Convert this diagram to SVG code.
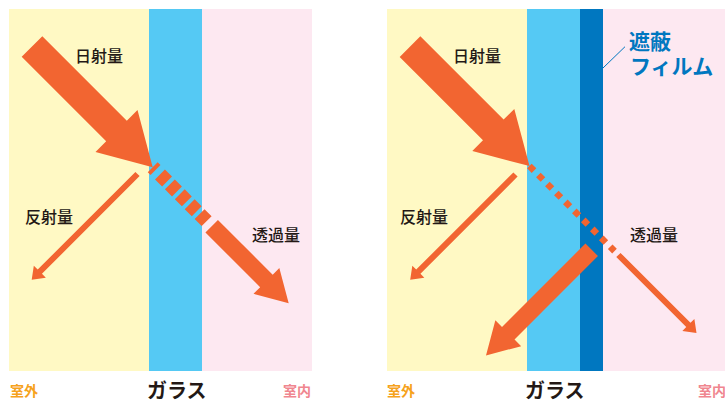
<svg xmlns="http://www.w3.org/2000/svg" width="725" height="403" viewBox="0 0 725 403">
<style>
.t{font-family:"Noto Sans CJK JP","Noto Sans",sans-serif;font-size:16px;font-weight:500;fill:#231815}
.b{font-family:"Noto Sans CJK JP","Noto Sans",sans-serif;font-weight:bold}
.arrow{fill:#f26531}
.out{font-size:14px;fill:#f6a21c}
.in{font-size:14px;fill:#f0868f}
.glass{font-size:20px;fill:#231815}
.film{font-size:21px;fill:#0077c0}
</style>
<rect width="725" height="403" fill="#ffffff"/>
<g id="panel-left">
<rect x="9" y="9" width="140" height="362" fill="#fff9c4"/>
<rect x="149" y="9" width="53" height="362" fill="#55c9f4"/>
<rect x="202" y="9" width="110" height="362" fill="#fde8f1"/>
</g>
<g id="panel-right">
<rect x="387" y="9" width="140" height="362" fill="#fff9c4"/>
<rect x="527" y="9" width="53" height="362" fill="#55c9f4"/>
<rect x="580" y="9" width="23" height="362" fill="#0077c0"/>
<rect x="603" y="9" width="122" height="362" fill="#fde8f1"/>
</g>
<g id="connectors">
<polygon class="arrow" points="21.68,56.82 106.18,141.32 95.5,152 152.7,167.2 137.5,110 126.82,120.68 42.32,36.18"/>
<line x1="152.7" y1="167.2" x2="211.7" y2="226.2" stroke="#f26531" stroke-width="14" stroke-dasharray="4 6.3 10 4 10 4 10 4 10 4 10 50"/>
<polygon class="arrow" points="205.44,232.46 260.17,287.19 253.53,293.83 288.7,303.2 279.33,268.03 272.69,274.67 217.96,219.94"/>
<polygon class="arrow" points="139.62,176.12 41.95,273.79 45.84,277.68 31.7,279.8 33.82,265.66 37.71,269.55 135.38,171.88"/>
<polygon class="arrow" points="399.68,56.92 482.98,140.22 472.3,150.9 529.5,166.1 514.3,108.9 503.62,119.58 420.32,36.28"/>
<line x1="529.4" y1="166" x2="614.5" y2="251.1" stroke="#f26531" stroke-width="6.5" stroke-dasharray="6.5 6.2"/>
<polygon class="arrow" points="616.28,257.12 686.25,327.09 682.36,330.98 696.5,333.1 694.38,318.96 690.49,322.85 620.52,252.88"/>
<polygon class="arrow" points="597.96,256.06 514.53,339.49 521.17,346.13 486,355.5 495.37,320.33 502.01,326.97 585.44,243.54"/>
<polygon class="arrow" points="517.62,176.62 420.45,273.79 424.34,277.68 410.2,279.8 412.32,265.66 416.21,269.55 513.38,172.38"/>
<line x1="602.7" y1="68.3" x2="625" y2="46.7" stroke="#0077c0" stroke-width="1"/>
</g>
<g id="labels-left">
<text class="t" x="75" y="62">日射量</text>
<text class="t" x="25" y="223">反射量</text>
<text class="t" x="252" y="241">透過量</text>
<text class="b out" x="10" y="396">室外</text>
<text class="b glass" x="147" y="398">ガラス</text>
<text class="b in" x="283" y="396">室内</text>
</g>
<g id="labels-right">
<text class="t" x="453" y="62">日射量</text>
<text class="t" x="400" y="223">反射量</text>
<text class="t" x="630" y="241">透過量</text>
<text class="b film"><tspan x="629" y="49">遮蔽</tspan><tspan x="630" y="74">フィルム</tspan></text>
<text class="b out" x="387" y="396">室外</text>
<text class="b glass" x="525" y="398">ガラス</text>
<text class="b in" x="698" y="396">室内</text>
</g>
</svg>
